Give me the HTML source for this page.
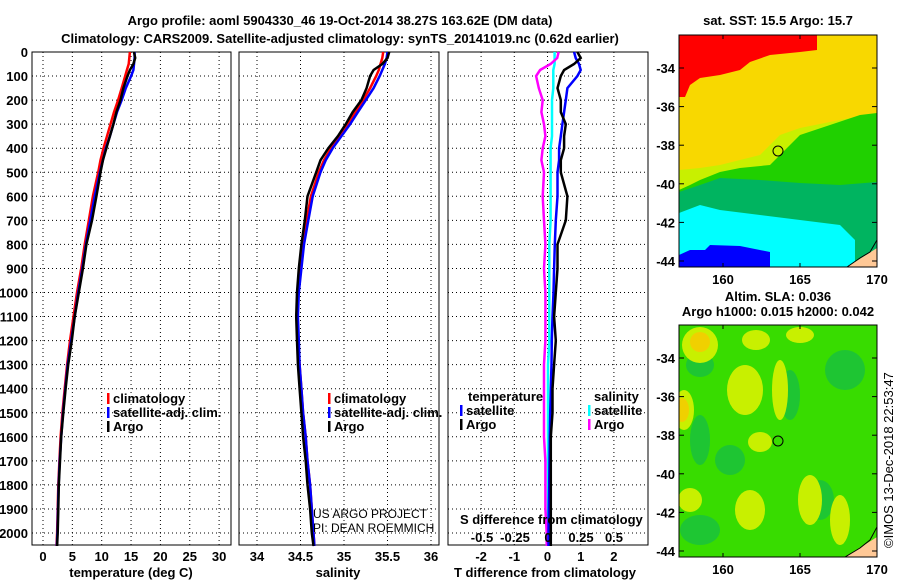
<!DOCTYPE html>
<html><head><meta charset="utf-8"><style>
body{margin:0;background:#fff;}
svg{display:block;font-family:"Liberation Sans",sans-serif;}
.b{font-weight:bold;font-size:13px;}
.t{font-weight:bold;font-size:13px;}
</style></head><body>
<svg id="c" width="900" height="580" viewBox="0 0 900 580">
<defs><clipPath id="cm2"><rect x="679" y="325" width="198" height="232"/></clipPath></defs>
<rect width="900" height="580" fill="#fff"/>
<text class="t" x="340" y="25" text-anchor="middle" font-size="14">Argo profile: aoml 5904330_46 19-Oct-2014 38.27S 163.62E (DM data)</text>
<text class="t" x="340" y="43" text-anchor="middle" font-size="14">Climatology: CARS2009. Satellite-adjusted climatology: synTS_20141019.nc (0.62d earlier)</text>
<g id="p1"></g>
<g id="p2"></g>
<g id="p3"></g>
<g id="m1">
<text class="t" x="778" y="25" text-anchor="middle">sat. SST: 15.5 Argo: 15.7</text>
<rect x="679" y="35" width="198" height="232" fill="#f8d800"/>
<polygon fill="#c8f000" points="877,80 877,113 840,120 800,128 780,135 760,155 740,160 720,165 700,168 679,170 679,200 877,200"/>
<polygon fill="#20d000" points="877,113 860,115 830,125 800,135 785,150 770,165 740,168 720,172 700,180 690,185 679,190 679,267 877,267"/>
<polygon fill="#00b460" points="877,182 840,185 800,183 760,180 720,178 700,185 679,192 679,267 877,267"/>
<polygon fill="#00ffff" points="679,213 700,205 720,210 760,215 800,220 840,225 855,240 855,267 679,267"/>
<polygon fill="#0000ff" points="679,255 690,250 705,250 710,245 740,246 770,252 770,267 679,267"/>
<polygon fill="#ff0000" points="679,35 817,35 817,50 800,52 770,55 750,62 740,70 720,75 700,78 690,85 685,97 679,97"/>
<polygon fill="#ffc896" points="847,267 877,248 877,267"/>
<polyline fill="none" stroke="#000" stroke-width="1" points="847,267 860,258 870,252 877,240"/>
<circle cx="778" cy="151" r="5" fill="none" stroke="#000"/>
<rect x="679" y="35" width="198" height="232" fill="none" stroke="#000"/>
</g>
<g id="m2">
<text class="t" x="778" y="301" text-anchor="middle">Altim. SLA: 0.036</text>
<text class="t" x="778" y="316" text-anchor="middle">Argo h1000: 0.015 h2000: 0.042</text>
<g clip-path="url(#cm2)">
<rect x="679" y="325" width="198" height="232" fill="#38dc00"/>
<g fill="#18c040" opacity="0.8">
<ellipse cx="700" cy="365" rx="14" ry="12"/><ellipse cx="845" cy="370" rx="20" ry="20"/><ellipse cx="790" cy="395" rx="10" ry="25"/><ellipse cx="730" cy="460" rx="15" ry="15"/><ellipse cx="700" cy="530" rx="20" ry="15"/><ellipse cx="820" cy="500" rx="14" ry="20"/><ellipse cx="700" cy="440" rx="10" ry="25"/>
</g>
<g fill="#c8f000">
<ellipse cx="745" cy="390" rx="18" ry="25"/><ellipse cx="780" cy="390" rx="8" ry="30"/><ellipse cx="760" cy="442" rx="12" ry="10"/><ellipse cx="756" cy="340" rx="14" ry="10"/><ellipse cx="800" cy="335" rx="14" ry="8"/><ellipse cx="690" cy="500" rx="12" ry="12"/><ellipse cx="750" cy="510" rx="15" ry="20"/><ellipse cx="810" cy="500" rx="12" ry="25"/><ellipse cx="840" cy="520" rx="10" ry="25"/><ellipse cx="700" cy="345" rx="18" ry="18"/><ellipse cx="684" cy="410" rx="10" ry="20"/>
</g>
<ellipse cx="700" cy="342" rx="10" ry="10" fill="#f0d000"/>
<ellipse cx="682" cy="410" rx="7" ry="12" fill="#f0d000"/>
<polygon fill="#ffc896" points="845,557 877,537 877,557"/>
<polyline fill="none" stroke="#000" points="845,557 860,548 870,540 877,527"/>
</g>
<circle cx="778" cy="441" r="5" fill="none" stroke="#000"/>
<rect x="679" y="325" width="198" height="232" fill="none" stroke="#000"/>
</g>
<text x="893" y="548" font-size="13" transform="rotate(-90 893 548)">©IMOS 13-Dec-2018 22:53:47</text>
<text x="313" y="518" font-size="12">US ARGO PROJECT</text>
<text x="313" y="532" font-size="12">PI: DEAN ROEMMICH</text>
</svg>
<script>
const depths=[0,25,50,75,100,150,200,250,300,350,400,450,500,600,700,800,900,1000,1100,1200,1300,1400,1500,1600,1700,1800,1900,2000,2054];
const tClim=[14.8,14.7,14.6,14.3,14.0,13.4,12.8,12.1,11.5,10.9,10.3,9.8,9.4,8.5,7.8,7.1,6.5,5.8,5.2,4.6,4.1,3.7,3.3,3.0,2.8,2.6,2.5,2.4,2.3];
const tSat=[15.6,15.6,15.5,15.4,15.0,14.1,13.4,12.6,12.0,11.4,10.7,10.2,9.7,8.8,8.05,7.3,6.7,6.0,5.4,4.8,4.2,3.8,3.4,3.1,2.85,2.65,2.55,2.45,2.35];
const tArgo=[15.5,15.7,15.4,14.8,14.4,13.7,13.2,12.5,12.0,11.4,10.8,10.2,9.8,9.1,8.35,7.4,6.8,6.1,5.4,4.9,4.3,3.85,3.45,3.1,2.9,2.7,2.6,2.5,2.4];
const sClim=[35.45,35.44,35.42,35.4,35.37,35.3,35.22,35.13,35.04,34.94,34.85,34.77,34.71,34.62,34.57,34.53,34.5,34.47,34.46,34.47,34.49,34.51,34.53,34.56,34.58,34.61,34.63,34.65,34.66];
const sSat=[35.5,35.49,35.47,35.44,35.41,35.34,35.25,35.16,35.07,34.97,34.87,34.79,34.73,34.64,34.59,34.54,34.51,34.48,34.47,34.48,34.49,34.51,34.53,34.56,34.58,34.61,34.63,34.65,34.66];
const sArgo=[35.52,35.5,35.44,35.34,35.3,35.26,35.2,35.1,35.02,34.93,34.82,34.73,34.68,34.58,34.55,34.51,34.48,34.46,34.45,34.46,34.47,34.49,34.51,34.53,34.56,34.58,34.61,34.63,34.65];
const dTArgo=[0.9,1.0,0.8,0.5,0.4,0.3,0.4,0.4,0.55,0.5,0.5,0.4,0.4,0.6,0.55,0.3,0.3,0.25,0.2,0.25,0.2,0.15,0.15,0.1,0.1,0.1,0.1,0.1,0.1];
const dTSat=[0.8,0.85,0.95,1.0,0.9,0.6,0.55,0.5,0.45,0.4,0.35,0.35,0.3,0.3,0.25,0.22,0.2,0.18,0.15,0.13,0.12,0.1,0.08,0.07,0.06,0.05,0.04,0.03,0.03];
const dSSat=[0.05,0.05,0.05,0.04,0.04,0.04,0.03,0.03,0.03,0.03,0.02,0.02,0.02,0.02,0.02,0.01,0.01,0.01,0.01,0.01,0,0,0,0,0,0,0,-0.01,-0.01];
const dSArgo=[0.08,0.07,0.02,-0.06,-0.09,-0.07,-0.04,-0.05,-0.03,-0.02,-0.04,-0.05,-0.03,-0.04,-0.03,-0.02,-0.03,-0.02,-0.02,-0.02,-0.03,-0.03,-0.03,-0.03,-0.02,-0.02,-0.02,-0.01,-0.01];
const depthTicks=[0,100,200,300,400,500,600,700,800,900,1000,1100,1200,1300,1400,1500,1600,1700,1800,1900,2000];
const tTicks=[0,5,10,15,20,25,30];
const sTicks=[34,34.5,35,35.5,36];
const sTickLabels=["34","34.5","35","35.5","36"];
const dTTicks=[-2,-1,0,1,2];
const dSTicks=[-0.5,-0.25,0,0.25,0.5];
const dSTickLabels=["-0.5","-0.25","0","0.25","0.5"];
const latTicks=[-34,-36,-38,-40,-42,-44];
const lonTicks=[160,165,170];

const NS="http://www.w3.org/2000/svg";
function mk(parent,tag,attrs){const e=document.createElementNS(NS,tag);for(const k in attrs)e.setAttribute(k,attrs[k]);parent.appendChild(e);return e;}
const yTop=52,yBot=545;
const yD=d=>yTop+d*(24.05/100);
function panel(g,x0,x1,xs,xticks,labels){
  for(const d of depthTicks){
    const y=yD(d);
    const l=mk(g,'line',{x1:x0,x2:x1,y1:y,y2:y,stroke:'#000','stroke-dasharray':'1,3'});
    
    
  }
  for(const v of xticks){
    const x=xs(v);
    const l=mk(g,'line',{x1:x,x2:x,y1:yTop,y2:yBot,stroke:'#000','stroke-dasharray':'1,3'});
    
    
  }
  const r=mk(g,'rect',{x:x0,y:yTop,width:x1-x0,height:yBot-yTop,fill:'none',stroke:'#000'});
  
  
  xticks.forEach((v,i)=>{
    const t=mk(g,'text',{x:xs(v),y:561,'text-anchor':'middle','class':'b'});t.textContent=labels[i];
    
    
  });
}
function line(g,xs,vals,color,name){
  const pts=vals.map((v,i)=>xs(v).toFixed(1)+','+yD(depths[i]).toFixed(1)).join(' ');
  const p=mk(g,'polyline',{points:pts,fill:'none',stroke:color,'stroke-width':2.5});
  
  
}
function legend(g,x,y,color,label,name){
  const r=mk(g,'rect',{x:x,y:y-10,width:2.5,height:11,fill:color});
  
  
  const t=mk(g,'text',{x:x+6,y:y,'class':'b'});t.textContent=label;
  
  
}
function txt(g,x,y,s,name,anchor){
  const t=mk(g,'text',{x:x,y:y,'class':'b','text-anchor':anchor||'start'});t.textContent=s;
  
  
}
const p1=document.getElementById('p1');
const xT=v=>43+v*5.87;
panel(p1,32,231,xT,tTicks,tTicks.map(String));
depthTicks.forEach(d=>txt(p1,28,yD(d)+5,String(d),'depth-tick-label','end'));
line(p1,xT,tClim,'#ff0000','temperature-climatology-line');
line(p1,xT,tSat,'#0000ff','temperature-satellite-line');
line(p1,xT,tArgo,'#000000','temperature-argo-line');
legend(p1,107,403,'#ff0000','climatology','legend-climatology');
legend(p1,107,417,'#0000ff','satellite-adj. clim.','legend-satellite');
legend(p1,107,431,'#000000','Argo','legend-argo');
txt(p1,131,577,'temperature (deg C)','temperature-axis-title','middle');
const p2=document.getElementById('p2');
const xS=v=>257+(v-34)*87;
panel(p2,239,439,xS,sTicks,sTickLabels);
line(p2,xS,sClim,'#ff0000','salinity-climatology-line');
line(p2,xS,sSat,'#0000ff','salinity-satellite-line');
line(p2,xS,sArgo,'#000000','salinity-argo-line');
legend(p2,328,403,'#ff0000','climatology','legend-climatology');
legend(p2,328,417,'#0000ff','satellite-adj. clim.','legend-satellite');
legend(p2,328,431,'#000000','Argo','legend-argo');
txt(p2,338,577,'salinity','salinity-axis-title','middle');
const p3=document.getElementById('p3');
const xDT=v=>547.5+v*33.2;
const xDS=v=>548+v*132;
panel(p3,448,648,xDT,dTTicks,dTTicks.map(String));
line(p3,xDS,dSSat,'#00ffff','salinity-diff-satellite-line');
line(p3,xDS,dSArgo,'#ff00ff','salinity-diff-argo-line');
line(p3,xDT,dTSat,'#0000ff','temperature-diff-satellite-line');
line(p3,xDT,dTArgo,'#000000','temperature-diff-argo-line');
txt(p3,468,401,'temperature','legend-temperature-header');
legend(p3,460,415,'#0000ff','satellite','legend-temp-satellite');
legend(p3,460,429,'#000000','Argo','legend-temp-argo');
txt(p3,594,401,'salinity','legend-salinity-header');
legend(p3,588,415,'#00ffff','satellite','legend-sal-satellite');
legend(p3,588,429,'#ff00ff','Argo','legend-sal-argo');
txt(p3,460,524,'S difference from climatology','s-diff-axis-title');
dSTicks.forEach((v,i)=>txt(p3,xDS(v),542,dSTickLabels[i],'s-diff-tick-label','middle'));
txt(p3,545,577,'T difference from climatology','t-diff-axis-title','middle');
function mapAxes(id,y0,y1){
  const g=document.getElementById(id);
  const yL=v=>y0+33+(-34-v)*19.3;
  const xL=v=>723+(v-160)*15.4;
  latTicks.forEach(v=>{
    const y=yL(v);
    mk(g,'line',{x1:679,x2:684,y1:y,y2:y,stroke:'#000'});
    mk(g,'line',{x1:872,x2:877,y1:y,y2:y,stroke:'#000'});
    txt(g,675,y+5,String(v),'lat-tick-label','end');
  });
  lonTicks.forEach(v=>{
    const x=xL(v);
    mk(g,'line',{x1:x,x2:x,y1:y0,y2:y0+4,stroke:'#000'});
    mk(g,'line',{x1:x,x2:x,y1:y1-4,y2:y1,stroke:'#000'});
    txt(g,x,y1+17,String(v),'lon-tick-label','middle');
  });
}
mapAxes('m1',35,267);
mapAxes('m2',325,557);
</script>
</body></html>
